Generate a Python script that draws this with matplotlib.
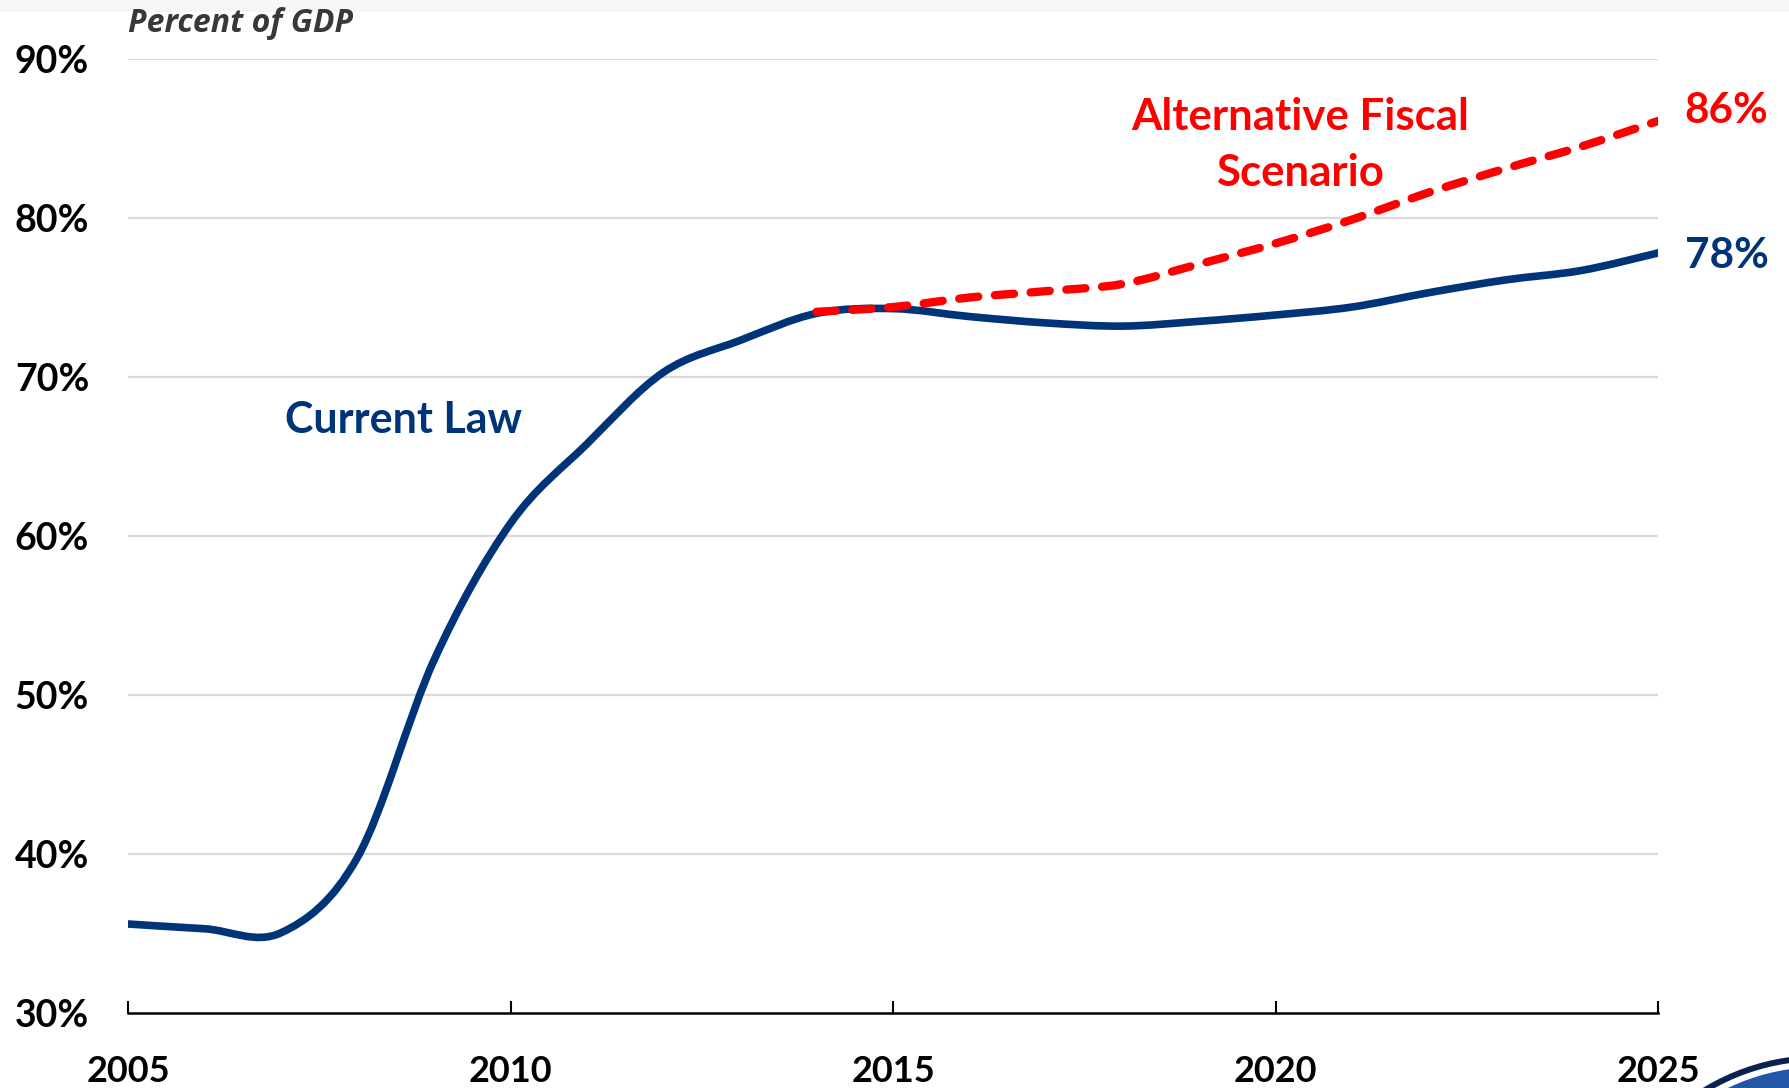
import matplotlib
matplotlib.use("Agg")
import matplotlib.pyplot as plt
from matplotlib.patches import Circle, PathPatch, Rectangle
from matplotlib.path import Path

# Data (percent of GDP), annual values
years_cl = [2005, 2006, 2007, 2008, 2009, 2010, 2011, 2012, 2013, 2014, 2015,
            2016, 2017, 2018, 2019, 2020, 2021, 2022, 2023, 2024, 2025]
current_law = [35.6, 35.3, 35.05, 39.8, 52.2, 60.8, 65.8, 70.3, 72.3, 74.0, 74.3,
               73.8, 73.4, 73.2, 73.5, 73.9, 74.4, 75.3, 76.1, 76.7, 77.8]
years_alt = [2014, 2015, 2016, 2017, 2018, 2019, 2020, 2021, 2022, 2023, 2024, 2025]
alt_fiscal = [74.1, 74.4, 75.0, 75.4, 75.85, 77.1, 78.4, 79.9, 81.6, 83.1, 84.5, 86.1]

yticks = [30, 40, 50, 60, 70, 80, 90]
ytick_labels = ["30%", "40%", "50%", "60%", "70%", "80%", "90%"]
xticks = [2005, 2010, 2015, 2020, 2025]
xtick_labels = ["2005", "2010", "2015", "2020", "2025"]

NAVY = "#003478"
RED = "#ff0000"
FONT = ["Lato", "DejaVu Sans"]


def smooth_path(xs, ys):
    """Excel-style smoothed line: Catmull-Rom segments drawn as cubic Beziers."""
    n = len(xs)
    verts = [(xs[0], ys[0])]
    codes = [Path.MOVETO]
    for i in range(n - 1):
        x0, y0 = (xs[i - 1], ys[i - 1]) if i > 0 else (xs[i], ys[i])
        x1, y1 = xs[i], ys[i]
        x2, y2 = xs[i + 1], ys[i + 1]
        x3, y3 = (xs[i + 2], ys[i + 2]) if i + 2 < n else (x2, y2)
        c1 = (x1 + (x2 - x0) / 6.0, y1 + (y2 - y0) / 6.0)
        c2 = (x2 - (x3 - x1) / 6.0, y2 - (y3 - y1) / 6.0)
        verts += [c1, c2, (x2, y2)]
        codes += [Path.CURVE4] * 3
    return Path(verts, codes)


fig = plt.figure(figsize=(17.89, 10.88), dpi=100)

# faint grey band along the top edge
fig.patches.append(Rectangle((0, 1 - 12 / 1088), 1, 12 / 1088, transform=fig.transFigure,
                             facecolor="#f6f6f6", edgecolor="none", zorder=0))

ax = fig.add_axes([0.0716, 0.0689, 0.8552, 0.8769])
ax.set_facecolor("none")

for y in yticks[1:]:
    ax.axhline(y, color="#d9d9d9", lw=1.6, zorder=1)

ax.add_patch(PathPatch(smooth_path(years_cl, current_law), fill=False, edgecolor=NAVY,
                       lw=5.5, capstyle="round", joinstyle="round", zorder=3))
ax.add_patch(PathPatch(smooth_path(years_alt, alt_fiscal), fill=False, edgecolor=RED,
                       lw=6, linestyle=(0, (2.3, 2.0)), capstyle="round", zorder=4))

ax.set_xlim(2005, 2025)
ax.set_ylim(30, 90)
ax.set_yticks(yticks)
ax.set_yticklabels(ytick_labels)
ax.set_xticks(xticks)
ax.set_xticklabels(xtick_labels)

for s in ["top", "right", "left"]:
    ax.spines[s].set_visible(False)
ax.spines["bottom"].set_linewidth(1.8)
ax.spines["bottom"].set_color("black")

ax.tick_params(axis="y", length=0, pad=28, labelsize=27)
ax.tick_params(axis="x", direction="in", length=9, width=1.5, pad=30, labelsize=26)
for lab in ax.get_xticklabels() + ax.get_yticklabels():
    lab.set_fontfamily(FONT)
    lab.set_fontweight("bold")

fig.text(0.0716, 0.978, "Percent of GDP", ha="left", va="center", fontsize=23,
         style="italic", fontweight="bold", color="#383838",
         family=["Open Sans", "DejaVu Sans"])

ax.text(2008.6, 67.3, "Current Law", ha="center", va="center", fontsize=31,
        fontweight="bold", color=NAVY, family=FONT)
ax.text(2020.32, 84.6, "Alternative Fiscal\nScenario", ha="center", va="center",
        fontsize=31.5, fontweight="bold", color=RED, family=FONT, linespacing=1.5)
ax.text(2025.35, 86.7, "86%", ha="left", va="center", fontsize=30.5,
        fontweight="bold", color=RED, family=FONT, clip_on=False)
ax.text(2025.35, 77.6, "78%", ha="left", va="center", fontsize=30.5,
        fontweight="bold", color=NAVY, family=FONT, clip_on=False)

# partial seal at bottom-right corner
for r, col in [(225, "#0b2150"), (219, "#ffffff"), (213, "#2456a8")]:
    fig.patches.append(Circle((1820, -192), r, transform=None, facecolor=col,
                              edgecolor="none", zorder=0))

fig.savefig("out.png", dpi=100)
